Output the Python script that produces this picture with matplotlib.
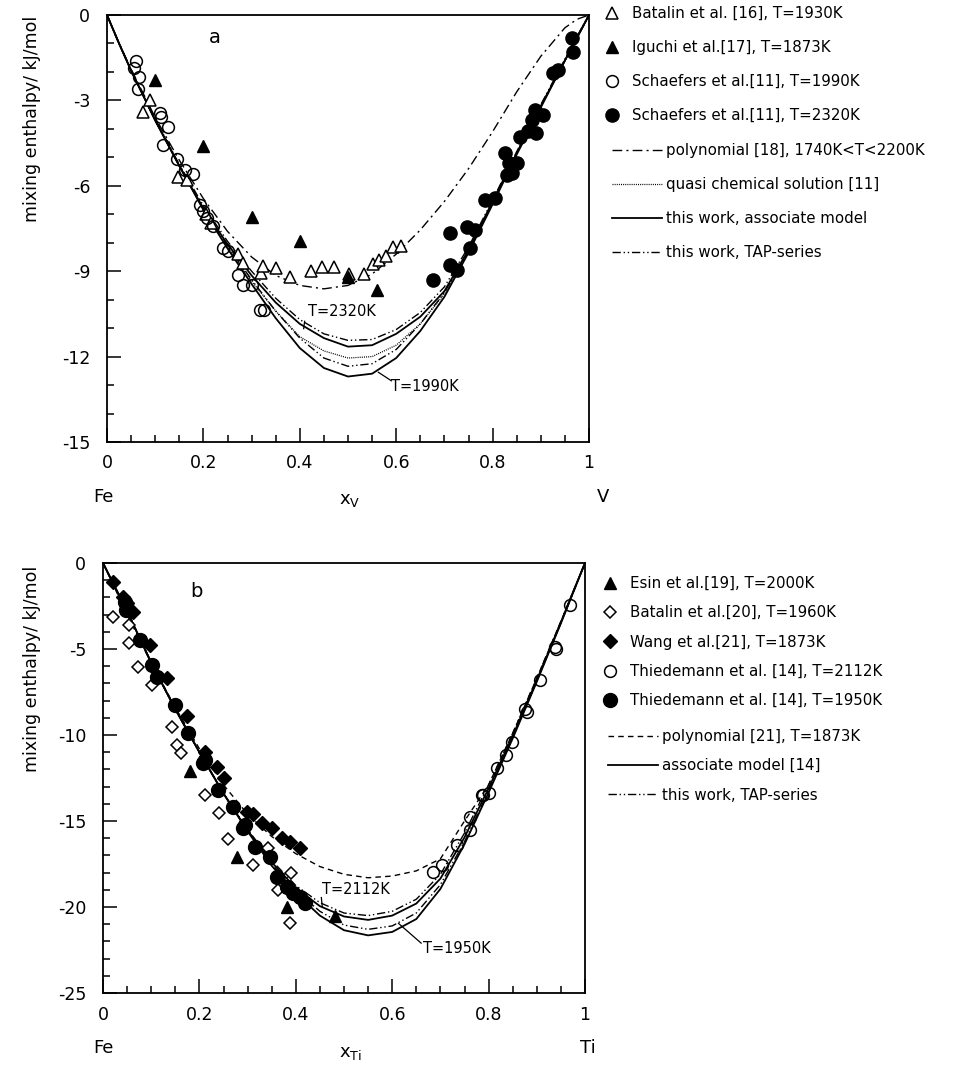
import matplotlib
matplotlib.use('Agg')
import matplotlib.pyplot as plt
from matplotlib.lines import Line2D
from matplotlib.ticker import MultipleLocator

plt.rcParams.update({
    'font.family': 'DejaVu Sans',
    'font.size': 11,
    'axes.linewidth': 1.3,
    'axes.unicode_minus': False,
})

W, H = 960, 1069

# ---------------- panel a: Fe-V ----------------
bat_a_x = [0.074, 0.089, 0.148, 0.165, 0.205, 0.215, 0.272, 0.283, 0.319, 0.324, 0.35, 0.38,
           0.423, 0.447, 0.47, 0.503, 0.534, 0.551, 0.565, 0.579, 0.594, 0.609]
bat_a_y = [-3.4, -3.0, -5.7, -5.8, -7.0, -7.3, -8.4, -8.7, -9.05, -8.8, -8.9, -9.2,
           -9.0, -8.85, -8.85, -9.1, -9.1, -8.75, -8.6, -8.45, -8.15, -8.13]
igu_a_x = [0.1, 0.2, 0.3, 0.4, 0.5, 0.56]
igu_a_y = [-2.3, -4.6, -7.1, -7.95, -9.2, -9.65]
sch1990_x = [0.055, 0.06, 0.067, 0.064, 0.11, 0.112, 0.127, 0.117, 0.145, 0.162, 0.179, 0.193,
             0.2, 0.207, 0.22, 0.241, 0.25, 0.272, 0.283, 0.3, 0.317, 0.325]
sch1990_y = [-1.87, -1.6, -2.19, -2.61, -3.45, -3.6, -3.94, -4.56, -5.06, -5.44, -5.6, -6.67,
             -6.9, -7.14, -7.4, -8.19, -8.3, -9.15, -9.5, -9.5, -10.37, -10.37]
sch2320_x = [0.964, 0.967, 0.926, 0.936, 0.888, 0.905, 0.881, 0.874, 0.891, 0.857, 0.826, 0.833,
             0.85, 0.829, 0.84, 0.784, 0.805, 0.746, 0.712, 0.763, 0.753, 0.712, 0.726, 0.677]
sch2320_y = [-0.82, -1.29, -2.05, -1.93, -3.33, -3.5, -3.68, -4.09, -4.15, -4.27, -4.85, -5.2,
             -5.2, -5.61, -5.55, -6.49, -6.43, -7.43, -7.66, -7.54, -8.19, -8.77, -8.95, -9.3]

xc_a = [0, 0.025, 0.05, 0.1, 0.15, 0.2, 0.25, 0.3, 0.35, 0.4, 0.45, 0.5, 0.55, 0.6, 0.65,
        0.7, 0.75, 0.8, 0.85, 0.9, 0.95, 0.975, 1]
poly_a = [0, -1.0, -1.9, -3.6, -5.1, -6.45, -7.6, -8.5, -9.15, -9.5, -9.62, -9.5, -9.1, -8.4,
          -7.55, -6.55, -5.4, -4.1, -2.7, -1.45, -0.45, -0.15, 0]
quasi_a = [0, -1.0, -1.95, -3.7, -5.3, -6.8, -8.15, -9.35, -10.4, -11.3, -11.8, -12.05,
           -12.0, -11.6, -10.85, -9.8, -8.3, -6.6, -4.85, -3.2, -1.6, -0.8, 0]
assoc_2320 = [0, -1.0, -1.95, -3.7, -5.3, -6.8, -8.05, -9.15, -10.1, -10.85, -11.35, -11.65,
              -11.6, -11.2, -10.6, -9.7, -8.25, -6.55, -4.85, -3.2, -1.6, -0.8, 0]
assoc_1990 = [0, -1.0, -1.95, -3.7, -5.3, -6.85, -8.2, -9.45, -10.65, -11.7, -12.4, -12.7,
              -12.6, -12.05, -11.1, -9.9, -8.35, -6.65, -4.9, -3.25, -1.6, -0.8, 0]
tap_2320 = [0, -1.0, -1.95, -3.65, -5.25, -6.7, -7.95, -9.0, -9.95, -10.7, -11.2, -11.43,
            -11.4, -11.05, -10.45, -9.55, -8.15, -6.5, -4.8, -3.15, -1.55, -0.75, 0]
tap_1990 = [0, -1.0, -1.95, -3.7, -5.3, -6.8, -8.1, -9.3, -10.4, -11.35, -12.05, -12.34,
            -12.25, -11.75, -10.85, -9.75, -8.3, -6.6, -4.85, -3.2, -1.6, -0.8, 0]

# ---------------- panel b: Fe-Ti ----------------
esin_x = [0.18, 0.277, 0.381, 0.481]
esin_y = [-12.1, -17.1, -20.0, -20.5]
bat_b_x = [0.021, 0.053, 0.053, 0.073, 0.102, 0.143, 0.153, 0.162, 0.212, 0.241, 0.26, 0.312,
           0.343, 0.364, 0.391, 0.387]
bat_b_y = [-3.16, -3.6, -4.63, -6.07, -7.09, -9.55, -10.56, -11.05, -13.5, -14.53, -16.07, -17.56,
           -16.59, -19.0, -18.0, -20.91]
wang_x = [0.021, 0.042, 0.05, 0.063, 0.098, 0.132, 0.174, 0.212, 0.236, 0.25, 0.298, 0.312,
          0.329, 0.35, 0.371, 0.388, 0.409]
wang_y = [-1.09, -1.96, -2.3, -2.83, -4.77, -6.71, -8.9, -10.97, -11.84, -12.5, -14.5, -14.62,
          -15.13, -15.4, -16.0, -16.2, -16.59]
thd2112_x = [0.969, 0.938, 0.94, 0.907, 0.879, 0.875, 0.848, 0.836, 0.817, 0.789, 0.8, 0.786,
             0.761, 0.761, 0.734, 0.703, 0.685]
thd2112_y = [-2.44, -4.87, -5.0, -6.8, -8.64, -8.5, -10.39, -11.18, -11.94, -13.49, -13.4, -13.49,
             -14.75, -15.52, -16.4, -17.56, -17.95]
thd1950_x = [0.046, 0.048, 0.077, 0.101, 0.111, 0.149, 0.177, 0.208, 0.212, 0.239, 0.27, 0.291,
             0.295, 0.315, 0.346, 0.36, 0.381, 0.395, 0.409, 0.419]
thd1950_y = [-2.25, -2.73, -4.48, -5.93, -6.61, -8.26, -9.9, -11.65, -11.45, -13.2, -14.2, -15.43,
             -15.23, -16.5, -17.07, -18.24, -18.82, -19.2, -19.4, -19.78]

xc_b = [0, 0.025, 0.05, 0.1, 0.15, 0.2, 0.25, 0.3, 0.35, 0.4, 0.45, 0.5, 0.55, 0.6, 0.65,
        0.7, 0.75, 0.8, 0.85, 0.9, 0.95, 0.975, 1]
poly_b = [0, -1.5, -3.0, -5.8, -8.4, -10.8, -12.9, -14.6, -15.9, -16.9, -17.65, -18.1, -18.3,
          -18.2, -17.9, -17.2, -15.0, -12.9, -9.9, -6.7, -3.4, -1.7, 0]
assoc_1950 = [0, -1.4, -2.8, -5.8, -8.5, -11.0, -13.4, -15.6, -17.6, -19.2, -20.5, -21.35,
              -21.65, -21.45, -20.7, -18.95, -16.35, -13.35, -10.2, -6.9, -3.5, -1.75, 0]
assoc_2112 = [0, -1.4, -2.8, -5.8, -8.5, -11.0, -13.4, -15.55, -17.4, -18.9, -19.95, -20.55,
              -20.75, -20.5, -19.8, -18.35, -15.95, -13.1, -10.05, -6.8, -3.45, -1.7, 0]
tap_1950 = [0, -1.4, -2.8, -5.8, -8.5, -11.0, -13.4, -15.55, -17.5, -19.05, -20.25, -21.05,
            -21.3, -21.1, -20.35, -18.7, -16.2, -13.25, -10.15, -6.85, -3.5, -1.75, 0]
tap_2112 = [0, -1.4, -2.8, -5.8, -8.5, -11.0, -13.4, -15.5, -17.3, -18.75, -19.75, -20.35,
            -20.5, -20.25, -19.55, -18.1, -15.7, -12.9, -9.9, -6.7, -3.4, -1.7, 0]

xticks = [0, 0.2, 0.4, 0.6, 0.8, 1]
xticklabels = ['0', '0.2', '0.4', '0.6', '0.8', '1']
yticks_a = [-15, -12, -9, -6, -3, 0]
yticks_b = [-25, -20, -15, -10, -5, 0]

DASHDOT = (0, (7, 3, 1.5, 3))
TAP = (0, (6, 2, 1, 2, 1, 2))
DOT = (0, (0.8, 0.9))
DASH = (0, (4, 3))


def px(x, y):
    return x / W, 1 - y / H


def style_axes(ax, yticks):
    ax.set_xlim(0, 1)
    ax.set_ylim(yticks[0], 0)
    ax.set_xticks(xticks)
    ax.set_xticklabels(xticklabels)
    ax.xaxis.set_minor_locator(MultipleLocator(0.05))
    ax.set_yticks(yticks)
    ax.set_yticklabels([str(v) for v in yticks])
    ax.yaxis.set_minor_locator(MultipleLocator(1))
    ax.tick_params(which='both', direction='in', top=False, right=False, width=1.1)
    ax.tick_params(which='major', length=10, labelsize=12.5, pad=9)
    ax.tick_params(axis='y', which='major', pad=12)
    ax.tick_params(which='minor', length=5)


fig = plt.figure(figsize=(W / 100, H / 100), dpi=100)

# ---- panel a ----
ax1 = fig.add_axes([107 / W, 1 - 442 / H, 482 / W, 427 / H])
ax1.plot(xc_a, poly_a, color='black', lw=1.0, ls=DASHDOT)
ax1.plot(xc_a, quasi_a, color='black', lw=0.9, ls=DOT)
ax1.plot(xc_a, assoc_2320, color='black', lw=1.3)
ax1.plot(xc_a, assoc_1990, color='black', lw=1.3)
ax1.plot(xc_a, tap_2320, color='black', lw=1.0, ls=TAP)
ax1.plot(xc_a, tap_1990, color='black', lw=1.0, ls=TAP)
ax1.plot(bat_a_x, bat_a_y, ls='none', marker='^', ms=8, mfc='white', mec='black', mew=1.1)
ax1.plot(igu_a_x, igu_a_y, ls='none', marker='^', ms=9, color='black')
ax1.plot(sch1990_x, sch1990_y, ls='none', marker='o', ms=8.5, mfc='none', mec='black', mew=1.1)
ax1.plot(sch2320_x, sch2320_y, ls='none', marker='o', ms=9.5, color='black')
style_axes(ax1, yticks_a)
ax1.text(0.224, -0.8, 'a', fontsize=14, ha='center', va='center')
ax1.text(0.487, -10.42, 'T=2320K', fontsize=10.5, ha='center', va='center')
ax1.plot([0.41, 0.408], [-10.76, -11.02], color='black', lw=0.9)
ax1.text(0.66, -13.05, 'T=1990K', fontsize=10.5, ha='center', va='center')
ax1.plot([0.563, 0.59], [-12.55, -12.85], color='black', lw=0.9)

h_pts = [Line2D([], [], ls='none', marker='^', ms=8, mfc='white', mec='black', mew=1.1),
         Line2D([], [], ls='none', marker='^', ms=9, color='black'),
         Line2D([], [], ls='none', marker='o', ms=8.5, mfc='none', mec='black', mew=1.1),
         Line2D([], [], ls='none', marker='o', ms=9.5, color='black')]
l_pts = ['Batalin et al. [16], T=1930K', 'Iguchi et al.[17], T=1873K',
         'Schaefers et al.[11], T=1990K', 'Schaefers et al.[11], T=2320K']
fig.legend(h_pts, l_pts, loc='upper left', bbox_to_anchor=px(598, 0), frameon=False,
           handlelength=1.0, handletextpad=0.9, labelspacing=1.27, fontsize=10.8,
           borderaxespad=0)
h_lin = [Line2D([], [], color='black', lw=1.0, ls=DASHDOT),
         Line2D([], [], color='black', lw=0.9, ls=DOT),
         Line2D([], [], color='black', lw=1.3),
         Line2D([], [], color='black', lw=1.0, ls=TAP)]
l_lin = ['polynomial [18], 1740K<T<2200K', 'quasi chemical solution [11]',
         'this work, associate model', 'this work, TAP-series']
fig.legend(h_lin, l_lin, loc='upper left', bbox_to_anchor=px(606, 137), frameon=False,
           handlelength=3.3, handletextpad=0.3, labelspacing=1.27, fontsize=10.8,
           borderaxespad=0)

fig.text(*px(103, 497), 'Fe', fontsize=13, ha='center', va='center')
fig.text(*px(350, 500), r'x$_{\mathregular{V}}$', fontsize=13, ha='center', va='center')
fig.text(*px(603, 497), 'V', fontsize=13, ha='center', va='center')
fig.text(*px(32, 16), 'mixing enthalpy/ kJ/mol', fontsize=12.5, rotation=90,
         ha='center', va='top')

# ---- panel b ----
ax2 = fig.add_axes([103 / W, 1 - 993 / H, 482 / W, 430 / H])
ax2.plot(xc_b, poly_b, color='black', lw=1.0, ls=DASH)
ax2.plot(xc_b, assoc_2112, color='black', lw=1.3)
ax2.plot(xc_b, assoc_1950, color='black', lw=1.3)
ax2.plot(xc_b, tap_2112, color='black', lw=1.0, ls=TAP)
ax2.plot(xc_b, tap_1950, color='black', lw=1.0, ls=TAP)
ax2.plot(esin_x, esin_y, ls='none', marker='^', ms=9, color='black')
ax2.plot(bat_b_x, bat_b_y, ls='none', marker='D', ms=6.5, mfc='white', mec='black', mew=1.1)
ax2.plot(wang_x, wang_y, ls='none', marker='D', ms=7, color='black')
ax2.plot(thd2112_x, thd2112_y, ls='none', marker='o', ms=8.5, mfc='none', mec='black', mew=1.1)
ax2.plot(thd1950_x, thd1950_y, ls='none', marker='o', ms=10, color='black')
style_axes(ax2, yticks_b)
ax2.text(0.194, -1.67, 'b', fontsize=14, ha='center', va='center')
ax2.text(0.525, -19.0, 'T=2112K', fontsize=10.5, ha='center', va='center')
ax2.plot([0.453, 0.455], [-19.45, -20.0], color='black', lw=0.9)
ax2.text(0.735, -22.4, 'T=1950K', fontsize=10.5, ha='center', va='center')
ax2.plot([0.613, 0.66], [-20.95, -22.1], color='black', lw=0.9)

h_pts_b = [Line2D([], [], ls='none', marker='^', ms=9, color='black'),
           Line2D([], [], ls='none', marker='D', ms=6.5, mfc='white', mec='black', mew=1.1),
           Line2D([], [], ls='none', marker='D', ms=7, color='black'),
           Line2D([], [], ls='none', marker='o', ms=8.5, mfc='none', mec='black', mew=1.1),
           Line2D([], [], ls='none', marker='o', ms=10, color='black')]
l_pts_b = ['Esin et al.[19], T=2000K', 'Batalin et al.[20], T=1960K',
           'Wang et al.[21], T=1873K', 'Thiedemann et al. [14], T=2112K',
           'Thiedemann et al. [14], T=1950K']
fig.legend(h_pts_b, l_pts_b, loc='upper left', bbox_to_anchor=px(596, 570), frameon=False,
           handlelength=1.0, handletextpad=0.9, labelspacing=0.95, fontsize=10.8,
           borderaxespad=0)
h_lin_b = [Line2D([], [], color='black', lw=1.0, ls=DASH),
           Line2D([], [], color='black', lw=1.3),
           Line2D([], [], color='black', lw=1.0, ls=TAP)]
l_lin_b = ['polynomial [21], T=1873K', 'associate model [14]', 'this work, TAP-series']
fig.legend(h_lin_b, l_lin_b, loc='upper left', bbox_to_anchor=px(602, 723), frameon=False,
           handlelength=3.3, handletextpad=0.3, labelspacing=0.95, fontsize=10.8,
           borderaxespad=0)

fig.text(*px(103, 1048), 'Fe', fontsize=13, ha='center', va='center')
fig.text(*px(350, 1053), r'x$_{\mathregular{Ti}}$', fontsize=13, ha='center', va='center')
fig.text(*px(588, 1048), 'Ti', fontsize=13, ha='center', va='center')
fig.text(*px(32, 566), 'mixing enthalpy/ kJ/mol', fontsize=12.5, rotation=90,
         ha='center', va='top')

fig.savefig('out.png', dpi=100)
